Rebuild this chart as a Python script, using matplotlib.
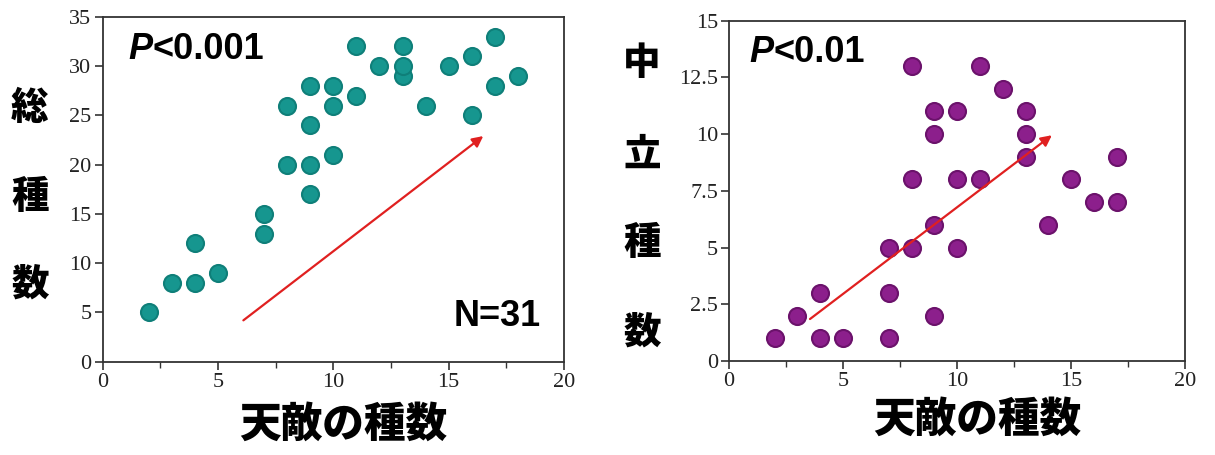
import matplotlib
matplotlib.use('Agg')
import matplotlib.pyplot as plt
from matplotlib.ticker import MultipleLocator

# left panel: total species vs natural enemy species
total_x = [2, 3, 4, 4, 5, 7, 7, 8, 8, 9, 9, 9, 9, 10, 10, 10, 11, 11, 12, 13, 13, 13, 14, 15, 16, 16, 17, 17, 18]
total_y = [5, 8, 8, 12, 9, 13, 15, 20, 26, 17, 20, 24, 28, 21, 26, 28, 27, 32, 30, 29, 30, 32, 26, 30, 25, 31, 28, 33, 29]
total_arrow = [(6.1, 4.2), (16.5, 22.9)]

# right panel: neutral species vs natural enemy species
neutral_x = [2, 3, 4, 4, 5, 7, 7, 7, 8, 8, 8, 9, 9, 9, 9, 10, 10, 10, 11, 11, 12, 13, 13, 13, 14, 15, 16, 17, 17]
neutral_y = [1, 2, 3, 1, 1, 5, 3, 1, 13, 8, 5, 11, 10, 6, 2, 11, 8, 5, 13, 8, 12, 11, 10, 9, 6, 8, 7, 9, 7]
neutral_arrow = [(3.55, 1.85), (14.15, 9.95)]

xticks = [0, 5, 10, 15, 20]
left_yticks = [0, 5, 10, 15, 20, 25, 30, 35]
right_yticks = [0, 2.5, 5, 7.5, 10, 12.5, 15]
right_ylabels = ['0', '2.5', '5', '7.5', '10', '12.5', '15']

cjk = ['Noto Sans CJK JP', 'DejaVu Sans']
serif = 'Liberation Serif'
sans = 'Liberation Sans'


def style_axes(ax):
	for s in ax.spines.values():
		s.set_color('#333333')
		s.set_linewidth(1.3)
	ax.tick_params(which='major', direction='out', length=6, width=1.2, color='#333333',
				   labelsize=16, pad=2)
	ax.tick_params(which='minor', direction='out', length=4, width=1.0, color='#333333')
	for lab in ax.get_xticklabels() + ax.get_yticklabels():
		lab.set_fontfamily(serif)
		lab.set_color('#222222')


def p_text(ax, x, y, rest):
	p = ax.text(x, y, 'P', transform=ax.transAxes, fontsize=26, fontweight='bold',
				fontstyle='italic', family=sans, va='center', ha='left')
	ax.annotate(rest, xy=(1, 0.5), xycoords=p, fontsize=26, fontweight='bold',
				family=sans, va='center', ha='left')


fig = plt.figure(figsize=(12.15, 4.55), dpi=100)

ax1 = fig.add_axes([0.0845, 0.205, 0.3797, 0.758])
ax1.scatter(total_x, total_y, s=150, color='#16968f', edgecolors='#0f7f79', linewidths=1.5, zorder=3)
ax1.annotate('', xy=total_arrow[1], xytext=total_arrow[0],
			 arrowprops=dict(arrowstyle='-|>', color='#e02020', lw=1.6, mutation_scale=16,
							 shrinkA=0, shrinkB=0))
ax1.set_xlim(0, 20)
ax1.set_ylim(0, 35)
ax1.set_xticks(xticks)
ax1.set_yticks(left_yticks)
ax1.xaxis.set_minor_locator(MultipleLocator(2.5))
style_axes(ax1)
p_text(ax1, 0.055, 0.905, '<0.001')
ax1.text(0.95, 0.13, 'N=31', transform=ax1.transAxes, fontsize=26, fontweight='bold',
		 family=sans, va='center', ha='right')

ax2 = fig.add_axes([0.600, 0.2066, 0.3756, 0.748])
ax2.scatter(neutral_x, neutral_y, s=150, color='#8c1f8c', edgecolors='#6b126b', linewidths=1.5, zorder=3)
ax2.annotate('', xy=neutral_arrow[1], xytext=neutral_arrow[0],
			 arrowprops=dict(arrowstyle='-|>', color='#e02020', lw=1.6, mutation_scale=16,
							 shrinkA=0, shrinkB=0))
ax2.set_xlim(0, 20)
ax2.set_ylim(0, 15)
ax2.set_xticks(xticks)
ax2.set_yticks(right_yticks)
ax2.set_yticklabels(right_ylabels)
ax2.xaxis.set_minor_locator(MultipleLocator(2.5))
style_axes(ax2)
p_text(ax2, 0.045, 0.905, '<0.01')

# axis titles, stacked vertically like the original
fig.text(343 / 1215, 1 - 425 / 455, '天敵の種数', fontsize=30, fontweight='heavy', family=cjk,
		 ha='center', va='center')
fig.text(977 / 1215, 1 - 420 / 455, '天敵の種数', fontsize=30, fontweight='heavy', family=cjk,
		 ha='center', va='center')
for ch, y in zip('総種数', [108, 197, 285]):
	fig.text(30 / 1215, 1 - y / 455, ch, fontsize=27, fontweight='heavy', family=cjk,
			 ha='center', va='center')
for ch, y in zip('中立種数', [63, 155, 243, 333]):
	fig.text(642 / 1215, 1 - y / 455, ch, fontsize=27, fontweight='heavy', family=cjk,
			 ha='center', va='center')

fig.savefig('out.png', dpi=100)
